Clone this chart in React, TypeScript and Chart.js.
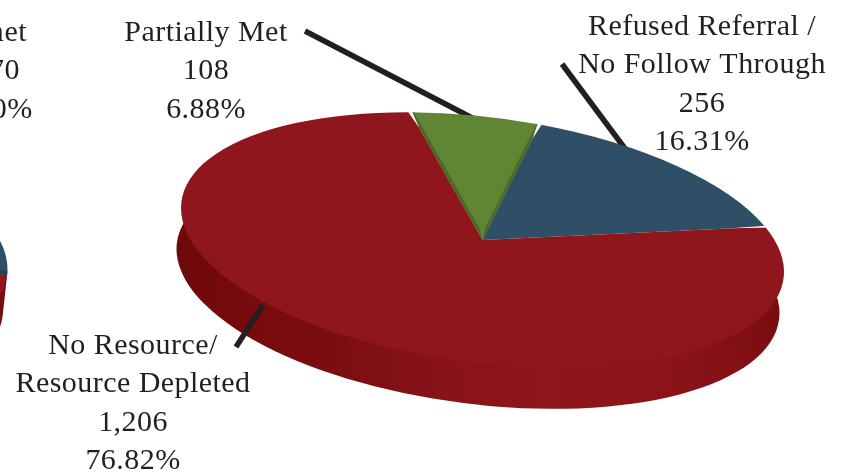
import React, { useEffect, useRef } from "react";
import { Chart, registerables } from "chart.js";

Chart.register(...registerables);

// Breakdown of unmet needs (foreground pie)
const reasonCategories = ["Partially Met", "Refused Referral / No Follow Through", "No Resource/ Resource Depleted"];
const reasonCounts = [108, 256, 1206];
const reasonColors = ["#5f8535", "#2e4f66", "#8f161c"];
const partiallyMetLines = ["Partially Met", "108", "6.88%"];
const refusedLines = ["Refused Referral /", "No Follow Through", "256", "16.31%"];
const noResourceLines = ["No Resource/", "Resource Depleted", "1,206", "76.82%"];

// Overall outcome pie, running off the left side of the page
const outcomeCategories = ["Unmet", "Met"];
const outcomeCounts = [1570, 2779];
const outcomeColors = ["#2e4f66", "#8f161c"];
const unmetLines = ["Unmet", "1,570", "36.10%"];

const FONT = '30px "Liberation Serif", serif';
const INK = "#231f20";
const LINE_GAP = 38.4;
const rad = (d: number) => (d * Math.PI) / 180;

type PieStyle = {
  cx: number;
  cy: number;
  labels: { x: number; y: number; lines: string[] }[];
  leaders: number[][];
  bands: { index: number; color: string; start: number; end: number }[];
  gaps: number[];
};

// Tilts a flat pie into a thick 3D disc: an affine map for the faces plus a swept rim.
function discPlugin(style: PieStyle) {
  const TILT = rad(7.24);
  const A = 303.5;
  const B = 123;
  const DROP = { x: -4.5, y: 41 };

  const place = (ctx: CanvasRenderingContext2D, el: any, dx: number, dy: number) => {
    const r = el.outerRadius;
    ctx.translate(style.cx + dx, style.cy + dy);
    ctx.rotate(TILT);
    ctx.scale(A / r, B / r);
    ctx.translate(-el.x, -el.y);
  };

  return {
    id: "disc",
    beforeDatasetsDraw(chart: any) {
      const ctx: CanvasRenderingContext2D = chart.ctx;
      const els = chart.getDatasetMeta(0).data;
      const rim = els[els.length - 1];
      const r = rim.outerRadius;

      const grad = ctx.createLinearGradient(style.cx - 308, 0, style.cx + 300, 0);
      grad.addColorStop(0, "#6f090b");
      grad.addColorStop(0.12, "#760a0c");
      grad.addColorStop(0.25, "#7a0d0f");
      grad.addColorStop(0.4, "#851217");
      grad.addColorStop(0.6, "#8f161b");
      grad.addColorStop(0.75, "#8d151a");
      grad.addColorStop(0.88, "#861217");
      grad.addColorStop(1, "#7a0c0e");

      // The swept rim starts just inside the top face so no seam shows along their shared edge
      ctx.save();
      place(ctx, rim, 0, 0);
      ctx.beginPath();
      ctx.moveTo(rim.x + r * Math.cos(rim.startAngle), rim.y + r * Math.sin(rim.startAngle));
      ctx.arc(rim.x, rim.y, r * 0.97, rim.startAngle, rim.endAngle);
      ctx.restore();
      ctx.save();
      place(ctx, rim, DROP.x, DROP.y);
      ctx.arc(rim.x, rim.y, r, rim.endAngle, rim.startAngle, true);
      ctx.restore();
      ctx.closePath();
      ctx.fillStyle = grad;
      ctx.fill();

      ctx.strokeStyle = INK;
      ctx.lineWidth = 5.5;
      style.leaders.forEach(([x1, y1, x2, y2]) => {
        ctx.beginPath();
        ctx.moveTo(x1, y1);
        ctx.lineTo(x2, y2);
        ctx.stroke();
      });

      ctx.save();
      place(ctx, rim, 0, 0);
    },
    afterDatasetsDraw(chart: any) {
      const ctx: CanvasRenderingContext2D = chart.ctx;
      const els = chart.getDatasetMeta(0).data;
      const { x, y, outerRadius: r } = els[0];

      // Darker bevel along the sides of a slice
      style.bands.forEach(({ index, color, start, end }) => {
        const el = els[index];
        ctx.fillStyle = color;
        [
          [el.startAngle, rad(start)],
          [el.endAngle, -rad(end)],
        ].forEach(([edge, w]) => {
          if (w === 0) return;
          const inner = edge + w * 10;
          ctx.beginPath();
          ctx.moveTo(x, y);
          ctx.lineTo(x + 0.1 * r * Math.cos(inner), y + 0.1 * r * Math.sin(inner));
          ctx.lineTo(x + r * Math.cos(edge + w), y + r * Math.sin(edge + w));
          ctx.arc(x, y, r, edge + w, edge, w > 0);
          ctx.closePath();
          ctx.fill();
        });
      });

      // Small notches in the rim where neighbouring slices part
      ctx.fillStyle = "#ffffff";
      style.gaps.forEach((i) => {
        const a = els[i].startAngle;
        const w = rad(0.45);
        ctx.beginPath();
        ctx.moveTo(x + 0.88 * r * Math.cos(a), y + 0.88 * r * Math.sin(a));
        ctx.lineTo(x + 1.02 * r * Math.cos(a - w), y + 1.02 * r * Math.sin(a - w));
        ctx.lineTo(x + 1.02 * r * Math.cos(a + w), y + 1.02 * r * Math.sin(a + w));
        ctx.closePath();
        ctx.fill();
      });
      ctx.restore();

      ctx.font = FONT;
      (ctx as any).letterSpacing = "0.45px";
      ctx.fillStyle = INK;
      ctx.textAlign = "center";
      ctx.textBaseline = "alphabetic";
      style.labels.forEach((label) => {
        label.lines.forEach((line, i) => ctx.fillText(line, label.x, label.y + i * LINE_GAP));
      });
    },
  };
}

function makePie(canvas: HTMLCanvasElement, labels: string[], data: number[], colors: string[], rotation: number, style: PieStyle) {
  return new Chart(canvas, {
    type: "pie",
    data: {
      labels,
      datasets: [{ data, backgroundColor: colors, borderWidth: 0, clip: false } as any],
    },
    options: {
      animation: false,
      responsive: false,
      rotation,
      layout: { padding: 0 },
      plugins: { legend: { display: false }, tooltip: { enabled: false } },
    },
    plugins: [discPlugin(style)],
  });
}

export default function App() {
  const mainRef = useRef<HTMLCanvasElement>(null);
  const sideRef = useRef<HTMLCanvasElement>(null);

  useEffect(() => {
    const side = makePie(sideRef.current!, outcomeCategories, outcomeCounts, outcomeColors, -40, {
      cx: -294,
      cy: 237,
      labels: [{ x: -15, y: 41, lines: unmetLines }],
      leaders: [],
      bands: [{ index: 0, color: "#264256", start: 0, end: 2 }],
      gaps: [],
    });
    const main = makePie(mainRef.current!, reasonCategories, reasonCounts, reasonColors, -16.8, {
      cx: 482.5,
      cy: 240,
      labels: [
        { x: 206, y: 41, lines: partiallyMetLines },
        { x: 702, y: 35, lines: refusedLines },
        { x: 133, y: 354, lines: noResourceLines },
      ],
      leaders: [
        [305, 31, 480, 122],
        [562, 64, 626, 150],
        [236, 347, 263, 305],
      ],
      bands: [{ index: 0, color: "#4a6a26", start: 0.7, end: 0.6 }],
      gaps: [0, 1, 2],
    });
    return () => {
      main.destroy();
      side.destroy();
    };
  }, []);

  const layer: React.CSSProperties = { position: "absolute", left: 0, top: 0, display: "block" };
  return (
    <div style={{ position: "fixed", left: 0, top: 0, width: 843, height: 474, overflow: "hidden", background: "#ffffff" }}>
      <canvas ref={sideRef} width={843} height={474} style={layer} />
      <canvas ref={mainRef} width={843} height={474} style={layer} />
    </div>
  );
}
